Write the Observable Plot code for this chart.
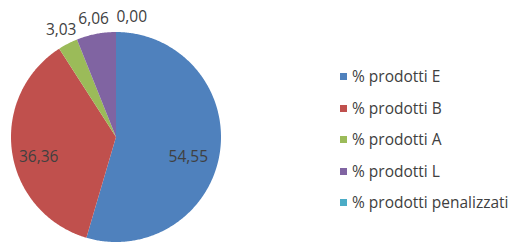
<!DOCTYPE html>
<html><head><meta charset="utf-8">
<script src="https://cdn.jsdelivr.net/npm/d3@7"></script>
<script src="https://cdn.jsdelivr.net/npm/@observablehq/plot@0.6"></script>
<style>
html,body{margin:0;padding:0;background:#fff;overflow:hidden;}
#wrap{position:relative;width:509px;height:247px;overflow:hidden;}
#legend{position:absolute;left:340px;top:66px;font-family:"Open Sans",sans-serif;font-size:15.5px;line-height:20px;color:#404040;white-space:nowrap;}
#legend .row{height:31.5px;display:flex;align-items:flex-start;}
#legend .sw{width:7px;height:7px;margin-right:5px;margin-top:7px;}
</style></head>
<body><div id="wrap"><div id="chart"></div><div id="legend"></div></div>
<script>
const categories = ["% prodotti E", "% prodotti B", "% prodotti A", "% prodotti L", "% prodotti penalizzati"];
const values = [54.55, 36.36, 3.03, 6.06, 0.00];
const labels = ["54,55", "36,36", "3,03", "6,06", "0,00"];
const colors = ["#4F81BD", "#C0504D", "#9BBB59", "#8064A2", "#4BACC6"];

const total = d3.sum(values);
const arcs = d3.pie().sort(null).value(d => d)(values);

// slice outlines as polygons in unit coordinates
const slicePts = [];
arcs.forEach((a, i) => {
  const n = Math.max(2, Math.ceil((a.endAngle - a.startAngle) / 0.01));
  for (let k = 0; k <= n; k++) {
    const t = a.startAngle + (a.endAngle - a.startAngle) * k / n;
    slicePts.push({cat: categories[i], x: Math.sin(t), y: Math.cos(t), cx: 0, cy: 0});
  }
});

const labelData = arcs.map((a, i) => {
  const mid = (a.startAngle + a.endAngle) / 2;
  const frac = values[i] / total;
  const inside = frac > 0.1;
  const rr = inside ? 0.72 : 1.15;
  return {
    label: labels[i],
    x: Math.sin(mid) * rr,
    y: Math.cos(mid) * rr,
    anchor: Math.abs(Math.sin(mid)) < 0.1 && !inside ? "start" : "middle",
    inside
  };
});

const cx = 116, cy = 137, r = 105;
const textOpts = {x: "x", y: "y", text: "label", fontSize: 15.5, fill: "#404040"};
const chart = Plot.plot({
  width: 509, height: 247,
  margin: 0,
  x: {domain: [-1, 1], range: [cx - r, cx + r], axis: null},
  y: {domain: [-1, 1], range: [cy + r, cy - r], axis: null},
  color: {domain: categories, range: colors},
  style: {fontFamily: "'Open Sans', sans-serif", background: "white"},
  marks: [
    Plot.area(slicePts, {x1: "x", y1: "y", x2: "cx", y2: "cy", z: "cat", fill: "cat", curve: "linear"}),
    Plot.text(labelData.filter(d => d.inside), {...textOpts, textAnchor: "middle", dy: 9, dx: -3}),
    Plot.text(labelData.filter(d => !d.inside && d.anchor === "middle"), {...textOpts, textAnchor: "middle"}),
    Plot.text(labelData.filter(d => !d.inside && d.anchor === "start"), {...textOpts, textAnchor: "start"})
  ]
});
document.getElementById("chart").appendChild(chart);

const leg = document.getElementById("legend");
categories.forEach((c, i) => {
  const row = document.createElement("div");
  row.className = "row";
  const sw = document.createElement("div");
  sw.className = "sw";
  sw.style.background = colors[i];
  const tx = document.createElement("span");
  tx.textContent = c;
  row.appendChild(sw); row.appendChild(tx);
  leg.appendChild(row);
});
</script>
</body></html>
